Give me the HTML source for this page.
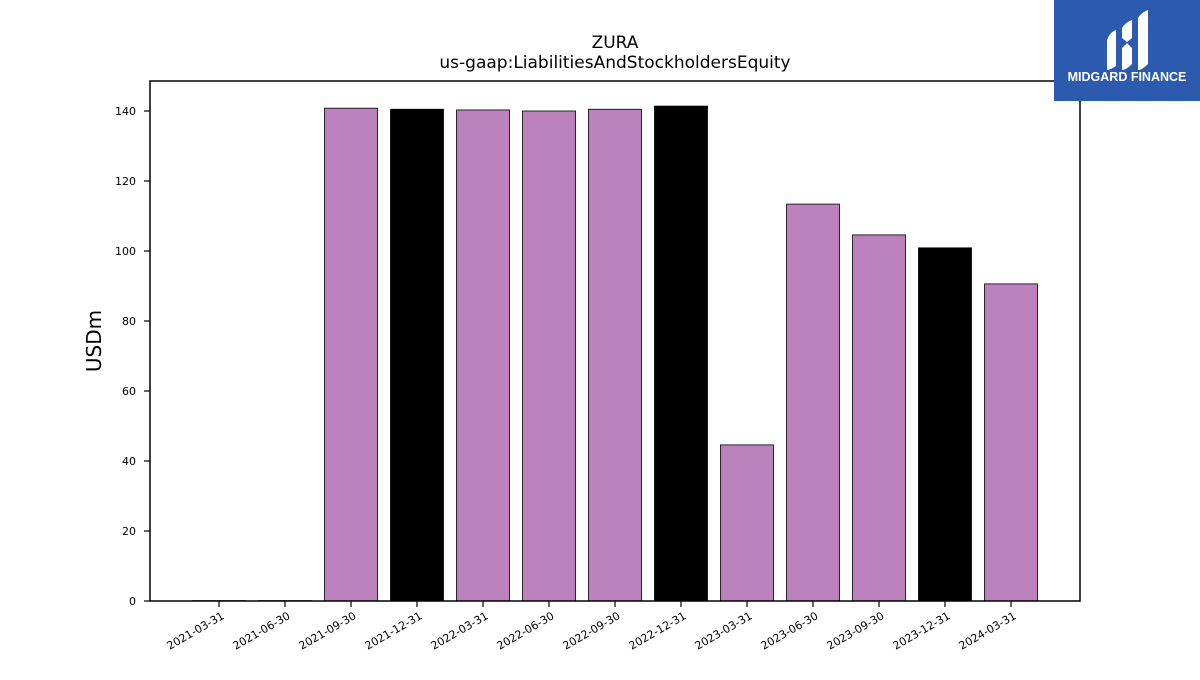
<!DOCTYPE html>
<html><head><meta charset="utf-8"><style>
body{margin:0;background:#fff;font-family:"Liberation Sans","DejaVu Sans",sans-serif}
</style></head><body>
<svg width="1200" height="675" xmlns="http://www.w3.org/2000/svg">
<rect width="1200" height="675" fill="#fff"/>
<text x="615" y="48" text-anchor="middle" font-size="17" font-family="DejaVu Sans,sans-serif">ZURA</text>
<text x="615" y="68" text-anchor="middle" font-size="17" font-family="DejaVu Sans,sans-serif">us-gaap:LiabilitiesAndStockholdersEquity</text>
<text transform="translate(101,341) rotate(-90)" text-anchor="middle" font-size="20" font-family="DejaVu Sans,sans-serif">USDm</text>
<g id="bars"></g>
<g id="yticks"></g>
<g id="xticks"></g>
<rect x="150" y="81" width="930" height="520" fill="none" stroke="#000" stroke-width="1.5"/>
<g>
<rect x="1054" y="0" width="146" height="101" fill="#2b5aae"/>
<path d="M1107 40 Q1110 32 1116 30 L1116 66 Q1110 70 1107 70 Z" fill="#fff"/>
<path d="M1122 28 Q1126 22 1132 20 L1132 38 L1127 42 L1122 38 Z M1122 48 L1127 43 L1132 48 L1132 64 Q1126 70 1122 70 Z" fill="#fff"/>
<path d="M1138 18 Q1142 12 1148 10 L1148 64 Q1142 70 1138 70 Z" fill="#fff"/>
<text x="1127" y="81" text-anchor="middle" font-size="12.5" font-weight="bold" fill="#fff">MIDGARD FINANCE</text>
</g>
</svg>
<script>
const categories=["2021-03-31","2021-06-30","2021-09-30","2021-12-31","2022-03-31","2022-06-30","2022-09-30","2022-12-31","2023-03-31","2023-06-30","2023-09-30","2023-12-31","2024-03-31"];
const values=[0.1,0.1,140.8,140.5,140.3,140.0,140.5,141.4,44.6,113.4,104.6,100.9,90.6];
const isYearEnd=[false,false,false,true,false,false,false,true,false,false,false,true,false];
const yTicks=[0,20,40,60,80,100,120,140];
const NS="http://www.w3.org/2000/svg";
const y=v=>601-v*3.5;
const x=i=>219+i*66;
const bw=53;
function mk(t,a,p){const e=document.createElementNS(NS,t);for(const k in a)e.setAttribute(k,a[k]);p.appendChild(e);return e;}
const bars=document.getElementById('bars'),yt=document.getElementById('yticks'),xt=document.getElementById('xticks');
values.forEach((v,i)=>{
 const r=mk('rect',{x:x(i)-bw/2,y:y(v),width:bw,height:601-y(v),fill:isYearEnd[i]?'#000':'#bc82bd',stroke:'#000','stroke-width':0.8},bars);
 
 
});
yTicks.forEach(t=>{
 const l=mk('line',{x1:144,x2:150,y1:y(t),y2:y(t),stroke:'#000','stroke-width':1.2},yt);
 
 
 const tx=mk('text',{x:136,y:y(t)+4,'text-anchor':'end','font-size':11,'font-family':'DejaVu Sans,sans-serif'},yt);
 tx.textContent=t;
 
 
});
categories.forEach((c,i)=>{
 const l=mk('line',{x1:x(i),x2:x(i),y1:601,y2:607,stroke:'#000','stroke-width':1.2},xt);
 
 
 const tx=mk('text',{transform:`translate(${x(i)+6},${618}) rotate(-30)`,'text-anchor':'end','font-size':11,'font-family':'DejaVu Sans,sans-serif'},xt);
 tx.textContent=c;
 
 
});
</script>
</body></html>
